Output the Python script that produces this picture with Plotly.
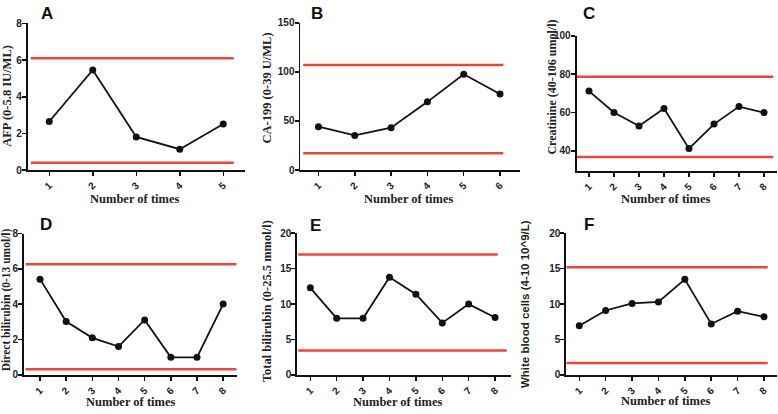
import plotly.graph_objects as go

# ---------------- data ----------------
times5 = [1, 2, 3, 4, 5]
times6 = [1, 2, 3, 4, 5, 6]
times8 = [1, 2, 3, 4, 5, 6, 7, 8]

afp = [2.65, 5.46, 1.81, 1.14, 2.52]
ca199 = [44.2, 35.3, 43.2, 69.5, 97.6, 77.5]
creatinine = [71.2, 60.0, 53.0, 62.1, 41.2, 54.0, 63.1, 60.0]
direct_bili = [5.42, 3.02, 2.1, 1.61, 3.11, 1.0, 1.0, 4.01]
total_bili = [12.3, 8.0, 8.0, 13.8, 11.4, 7.35, 10.0, 8.1]
wbc = [6.95, 9.1, 10.1, 10.3, 13.5, 7.2, 9.0, 8.2]

afp_limits = [0.4, 6.1]
ca199_limits = [17.1, 107]
creatinine_limits = [36.8, 78.7]
direct_limits = [0.33, 6.26]
total_limits = [3.47, 17.0]
wbc_limits = [1.7, 15.2]

letters = ["A", "B", "C", "D", "E", "F"]
y_titles = [
    "AFP (0-5.8 IU/ML)",
    "CA-199 (0-39 U/ML)",
    "Creatinine (40-106 umol/l)",
    "Direct bilirubin (0-13 umol/l)",
    "Total bilirubin (0-25.5 mmol/l)",
    "White blood cells (4-10 10^9/L)",
]
x_title = "Number of times"
y_ticks = [
    [0, 2, 4, 6, 8],
    [0, 50, 100, 150],
    [40, 60, 80, 100],
    [0, 2, 4, 6, 8],
    [0, 5, 10, 15, 20],
    [0, 5, 10, 15, 20],
]

# ---------------- layout / style ----------------
W, H = 778, 414
panels = [
    dict(x=times5, y=afp, lim=afp_limits, xr=[0.5, 5.5], yr=[0, 8],
         xd=[27.5, 245], yd=[18, 169], span=[[0.58, 5.24], [0.58, 5.24]],
         lab=(47, 8), yt=(7.5, 93), xt=(134, 199), yfont="Liberation Serif", ys=12.5),
    dict(x=times6, y=ca199, lim=ca199_limits, xr=[0.5, 6.55], yr=[0, 150],
         xd=[300.3, 520], yd=[17.3, 169], span=[[0.58, 6.09], [0.58, 6.09]],
         lab=(317, 8), yt=(267, 85), xt=(408, 199), yfont="Liberation Serif", ys=12.5),
    dict(x=times8, y=creatinine, lim=creatinine_limits, xr=[0.5, 8.5], yr=[29.5, 100],
         xd=[576.5, 776.5], yd=[30.7, 170], span=[[0.52, 8.37], [0.52, 8.37]],
         lab=(589, 8), yt=(552, 84), xt=(665, 199), yfont="Liberation Serif", ys=12),
    dict(x=times8, y=direct_bili, lim=direct_limits, xr=[0.38, 8.53], yr=[0, 8],
         xd=[23.8, 237], yd=[234.3, 380], span=[[0.45, 8.51], [0.45, 8.51]],
         lab=(46, 225), yt=(6, 303), xt=(130, 408), yfont="Liberation Serif", ys=11.5),
    dict(x=times8, y=total_bili, lim=total_limits, xr=[0.5, 8.6], yr=[0, 20],
         xd=[297.1, 510.9], yd=[234, 380], span=[[0.54, 8.44], [0.54, 8.1]],
         lab=(315, 226), yt=(267, 304), xt=(398, 408), yfont="Liberation Serif", ys=12.5),
    dict(x=times8, y=wbc, lim=wbc_limits, xr=[0.5, 8.5], yr=[0, 20],
         xd=[566.1, 777.2], yd=[234, 380], span=[[0.52, 8.14], [0.52, 8.14]],
         lab=(589, 225), yt=(525, 307), xt=(665, 407), yfont="Liberation Sans", ys=11.5),
]

RED = "#e8473f"
INK = "#111111"

fig = go.Figure()
layout = dict(
    width=W, height=H,
    margin=dict(l=0, r=0, t=0, b=0),
    paper_bgcolor="white", plot_bgcolor="white",
    showlegend=False,
    shapes=[], annotations=[],
)

for i, p in enumerate(panels):
    n = i + 1
    xa = "xaxis" if n == 1 else f"xaxis{n}"
    ya = "yaxis" if n == 1 else f"yaxis{n}"
    xr_ = "x" if n == 1 else f"x{n}"
    yr_ = "y" if n == 1 else f"y{n}"

    fig.add_trace(go.Scatter(
        x=p["x"], y=p["y"], mode="lines+markers",
        line=dict(color=INK, width=1.8),
        marker=dict(color=INK, size=7),
        xaxis=xr_, yaxis=yr_, cliponaxis=False,
    ))

    common = dict(showline=True, linecolor=INK, linewidth=1.8, ticks="outside",
                  ticklen=4, tickwidth=1.5, tickcolor=INK, showgrid=False,
                  zeroline=False, fixedrange=True)
    layout[xa] = dict(
        domain=[p["xd"][0] / W, p["xd"][1] / W], range=p["xr"], anchor=yr_,
        tickmode="array", tickvals=p["x"], ticktext=[str(v) for v in p["x"]],
        tickangle=-45,
        tickfont=dict(family="Liberation Sans", size=10, color="#222", weight="bold"),
        **common)
    layout[ya] = dict(
        domain=[1 - p["yd"][1] / H, 1 - p["yd"][0] / H], range=p["yr"], anchor=xr_,
        tickmode="array", tickvals=y_ticks[i], ticklabelstandoff=-2,
        tickfont=dict(family="Liberation Sans", size=10, color="#222", weight="bold"),
        **common)

    for lv, sp in zip(p["lim"], p["span"]):
        layout["shapes"].append(dict(
            type="line", xref=xr_, yref=yr_, x0=sp[0], x1=sp[1], y0=lv, y1=lv,
            line=dict(color=RED, width=2.5), layer="below"))

    layout["annotations"].append(dict(
        text=f"<b>{letters[i]}</b>", x=p["lab"][0] / W, y=1 - p["lab"][1] / H,
        xref="paper", yref="paper", showarrow=False, xanchor="center", yanchor="middle",
        font=dict(family="Liberation Sans", size=17, color="#111")))
    layout["annotations"].append(dict(
        text=f"<b>{y_titles[i]}</b>", x=p["yt"][0] / W, y=1 - p["yt"][1] / H,
        xref="paper", yref="paper", showarrow=False, xanchor="center", yanchor="middle",
        textangle=-90,
        font=dict(family=p["yfont"], size=p["ys"], color="#222")))
    layout["annotations"].append(dict(
        text=f"<b>{x_title}</b>", x=p["xt"][0] / W, y=1 - p["xt"][1] / H,
        xref="paper", yref="paper", showarrow=False, xanchor="center", yanchor="middle",
        font=dict(family="Liberation Serif", size=12.5, color="#222")))

fig.update_layout(**layout)
fig.write_html(
    "out.html",
    config={"displayModeBar": False, "staticPlot": True},
    post_script="document.body.style.margin='0px';document.body.style.overflow='hidden';",
)
